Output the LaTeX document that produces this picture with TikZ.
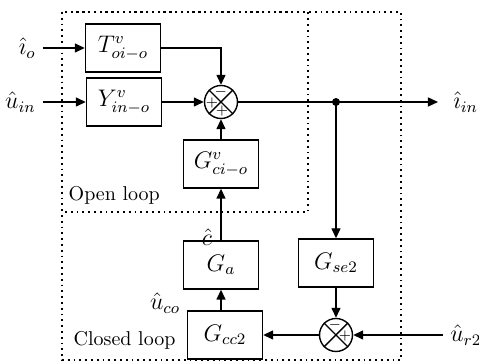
\documentclass[tikz,border=0pt]{standalone}
\usepackage{amsmath}
\usetikzlibrary{arrows.meta}
\usetikzlibrary{calc,positioning}

\begin{document}
\begin{tikzpicture}[x=0.5pt, y=-0.5pt, line width=0.7pt,
    >={Triangle[length=5pt,width=4.5pt]},
    block/.style={draw, minimum width=37.5pt, minimum height=24pt, font=\large},
    junction/.style={draw, circle, minimum size=16.5pt, inner sep=0pt},
    sign/.style={font=\scriptsize, inner sep=0pt},
    signal/.style={font=\large},
    loopbox/.style={dotted, line width=0.9pt}]

    \useasboundingbox (0,0) rectangle (479,362);

    % loops
    \draw[loopbox] (62,12) rectangle (401,360);
    \draw[loopbox] (62,12) rectangle (308,212);
    \node[anchor=west, inner sep=0pt] (ol) at (68,195) {Open loop};
    \node[anchor=west, inner sep=0pt] (cl) at (73,340) {Closed loop};

    % blocks
    \node[block] (T) at (123,48) {$T^{v}_{oi-o}$};
    \node[block] (Y) at (124,102) {$Y^{v}_{in-o}$};
    \node[block] (Gci) at (221,164) {$G^{v}_{ci-o}$};
    \node[block] (Ga) at (221,265) {$G_{a}$};
    \node[block] (Gcc) at (225,335) {$G_{cc2}$};
    \node[block] (Gse) at (336,263) {$G_{se2}$};

    \node[junction] (S1) at (221,102) {};
    \node[junction] (S2) at (336,335) {};
    \foreach \s in {S1,S2}
        \draw (\s.45) -- (\s.225) (\s.135) -- (\s.-45);
    \node[sign] at ($(S1)+(0,-10)$) {$-$};
    \node[sign] at ($(S1)+(-9,1)$) {$+$};
    \node[sign] at ($(S1)+(1,9)$) {$+$};
    \node[sign] at ($(S2)+(-1,-10)$) {$-$};
    \node[sign] at ($(S2)+(9,1)$) {$+$};

    % signals
    \coordinate (in1) at (43,48);
    \coordinate (in2) at (43,102);
    \coordinate (in3) at (443,335);
    \coordinate (out) at (438,102);
    \coordinate (B) at (S1 -| Gse);
    \node[signal, left=0pt of in1] (io) {$\hat{\imath}_{o}$};
    \node[signal, left=0pt of in2] (uin) {$\hat{u}_{in}$};
    \node[signal, right=4pt of out] (iin) {$\hat{\imath}_{in}$};
    \node[signal, right=0pt of in3] (ur) {$\hat{u}_{r2}$};
    \node[signal] (c) at (207,237) {$\hat{c}$};
    \node[signal] (uco) at (165,303) {$\hat{u}_{co}$};

    \draw[->] (in1) -- (T.west);
    \draw[->] (in2) -- (Y.west);
    \draw[->] (T.east) -| (S1.north);
    \draw[->] (Y.east) -- (S1.west);
    \draw[->] (Gci.north) -- (S1.south);
    \draw[->] (Ga.north) -- (Gci.south);
    \draw[->] (Gcc.north -| Ga) -- (Ga.south);
    \draw[->] (S1.east) -- (out);
    \fill (B) circle (2pt);
    \draw[->] (B) -- (Gse.north);
    \draw[->] (Gse.south) -- (S2.north);
    \draw[->] (in3) -- (S2.east);
    \draw[->] (S2.west) -- (Gcc.east);

\end{tikzpicture}
\end{document}
